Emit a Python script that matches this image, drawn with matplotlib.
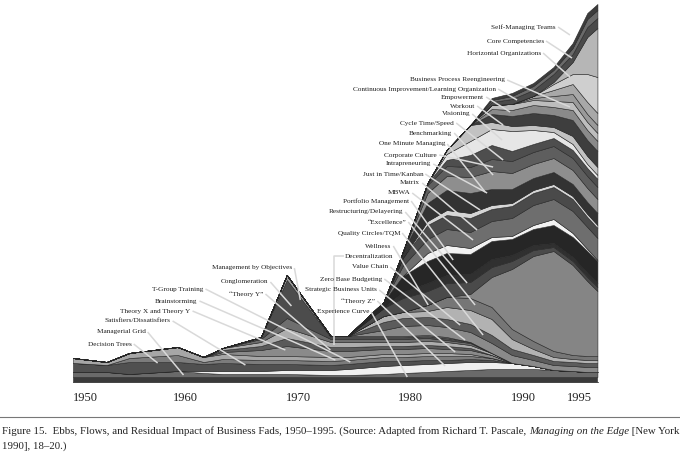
import matplotlib
matplotlib.use('Agg')
import matplotlib.pyplot as plt
from matplotlib.lines import Line2D

# sample years along the time axis
years = [1950, 1953, 1955, 1959.3, 1961.6, 1963.3, 1966.7, 1969, 1972.9, 1974.4, 1977.6,
         1979.3, 1981.5, 1983.2, 1985.3, 1987.2, 1989, 1990.9, 1992.7, 1994.4, 1995.7, 1996.6]

# --- bottom / early fads (relative impact) ---
base_dark = [5, 5, 5, 5, 5, 5, 5, 5, 5, 5, 5, 5, 5, 5, 5, 5, 5, 5, 5, 5, 5, 5]
decision_trees = [5, 5, 3, 6, 4, 3, 3, 3, 2, 2, 3, 4, 5, 6, 7, 8, 8, 8, 7, 6, 5, 5]
white_streak = [0, 0, 0, 0, 2, 3, 3, 4, 5, 6, 8, 8, 8, 8, 8, 7, 6, 3, 0, 0, 0, 0]
managerial_grid = [9, 7, 12, 9, 7, 8, 7, 6, 5, 5, 5, 4, 4, 3, 3, 2, 0, 0, 0, 0, 0, 0]
satisfiers = [0, 0, 4, 7, 2, 4, 4, 4, 4, 4, 4, 4, 4, 4, 3, 2, 0, 0, 0, 0, 0, 0]
early_light = [5, 3, 5, 8, 5, 5, 4, 4, 4, 3, 3, 3, 3, 3, 2, 0, 0, 0, 0, 0, 0, 0]
theory_xy = [0, 0, 0, 0, 0, 2, 6, 10, 6, 6, 5, 5, 5, 4, 4, 3, 0, 0, 0, 0, 0, 0]
t_group = [0, 0, 0, 0, 0, 2, 4, 8, 4, 4, 3, 3, 3, 3, 2, 0, 0, 0, 0, 0, 0, 0]
brainstorming = [0, 0, 0, 0, 0, 2, 4, 10, 5, 5, 4, 4, 4, 4, 3, 2, 0, 0, 0, 0, 0, 0]
theory_y = [0, 0, 0, 0, 0, 0, 3, 10, 3, 3, 3, 3, 3, 2, 2, 0, 0, 0, 0, 0, 0, 0]
conglomeration = [0, 0, 0, 0, 0, 0, 2, 38, 2, 2, 2, 2, 2, 2, 1, 0, 0, 0, 0, 0, 0, 0]
mbo = [0, 0, 0, 0, 0, 0, 0, 5, 1, 1, 1, 1, 1, 1, 0, 0, 0, 0, 0, 0, 0, 0]

# --- 1970s / 1980s / 1990s fads ---
experience_curve = [0, 0, 0, 0, 0, 0, 0, 0, 0, 0, 6, 10, 10, 10, 10, 10, 8, 6, 5, 5, 5, 5]
sbu = [0, 0, 0, 0, 0, 0, 0, 0, 0, 0, 8, 8, 8, 8, 8, 8, 6, 5, 4, 4, 4, 4]
zbb = [0, 0, 0, 0, 0, 0, 0, 0, 0, 0, 6, 6, 6, 12, 14, 16, 10, 6, 4, 3, 3, 3]
theory_z = [0, 0, 0, 0, 0, 0, 0, 0, 0, 0, 0, 0, 6, 10, 12, 12, 10, 8, 6, 4, 4, 4]
hump = [0, 0, 0, 0, 0, 0, 0, 0, 0, 0, 0, 0, 0, 0, 4, 30, 60, 85, 100, 90, 75, 65]
decentralization = [0, 0, 0, 0, 0, 0, 0, 0, 0, 0, 8, 14, 14, 14, 12, 10, 8, 6, 4, 4, 4, 4]
wellness = [0, 0, 0, 0, 0, 0, 0, 0, 0, 0, 0, 6, 8, 8, 8, 8, 6, 5, 4, 4, 4, 4]
value_chain = [0, 0, 0, 0, 0, 0, 0, 0, 0, 0, 6, 16, 22, 22, 20, 18, 16, 16, 18, 20, 22, 22]
qc_tqm = [0, 0, 0, 0, 0, 0, 0, 0, 0, 0, 0, 0, 8, 8, 6, 4, 3, 4, 6, 4, 2, 1]
excellence = [0, 0, 0, 0, 0, 0, 0, 0, 0, 0, 0, 10, 14, 16, 16, 16, 18, 20, 20, 22, 22, 22]
restructuring = [0, 0, 0, 0, 0, 0, 0, 0, 0, 0, 0, 8, 14, 14, 14, 12, 12, 12, 12, 12, 10, 10]
portfolio = [0, 0, 0, 0, 0, 0, 0, 0, 0, 0, 0, 0, 4, 5, 5, 4, 3, 3, 3, 3, 3, 3]
mbwa = [0, 0, 0, 0, 0, 0, 0, 0, 0, 0, 0, 6, 18, 20, 20, 16, 14, 12, 12, 12, 12, 12]
matrix = [0, 0, 0, 0, 0, 0, 0, 0, 0, 0, 0, 0, 10, 14, 16, 18, 16, 14, 14, 14, 14, 14]
jit = [0, 0, 0, 0, 0, 0, 0, 0, 0, 0, 0, 0, 8, 10, 10, 12, 12, 12, 12, 12, 12, 12]
intrapreneuring = [0, 0, 0, 0, 0, 0, 0, 0, 0, 0, 0, 0, 2, 6, 12, 14, 10, 8, 8, 8, 8, 8]
corp_culture = [0, 0, 0, 0, 0, 0, 0, 0, 0, 0, 0, 0, 0, 6, 14, 16, 20, 14, 6, 6, 4, 4]
one_minute = [0, 0, 0, 0, 0, 0, 0, 0, 0, 0, 0, 0, 0, 4, 16, 7, 5, 5, 5, 8, 8, 8]
benchmarking = [0, 0, 0, 0, 0, 0, 0, 0, 0, 0, 0, 0, 0, 0, 0, 8, 10, 12, 12, 16, 16, 16]
cycle_time = [0, 0, 0, 0, 0, 0, 0, 0, 0, 0, 0, 0, 0, 0, 0, 5, 6, 8, 8, 10, 10, 10]
visioning = [0, 0, 0, 0, 0, 0, 0, 0, 0, 0, 0, 0, 0, 0, 0, 4, 6, 5, 6, 8, 8, 8]
workout = [0, 0, 0, 0, 0, 0, 0, 0, 0, 0, 0, 0, 0, 0, 0, 0, 0, 2, 5, 8, 8, 8]
empowerment = [0, 0, 0, 0, 0, 0, 0, 0, 0, 0, 0, 0, 0, 0, 0, 0, 0, 2, 6, 10, 12, 12]
cont_improvement = [0, 0, 0, 0, 0, 0, 0, 0, 0, 0, 0, 0, 0, 0, 0, 0, 0, 0, 6, 10, 28, 36]
bpr = [0, 0, 0, 0, 0, 0, 0, 0, 0, 0, 0, 0, 0, 0, 0, 0, 0, 0, 2, 12, 37, 49]
horizontal = [0, 0, 0, 0, 0, 0, 0, 0, 0, 0, 0, 0, 0, 0, 0, 3, 5, 6, 8, 8, 10, 10]
core_comp = [0, 0, 0, 0, 0, 0, 0, 0, 0, 0, 0, 0, 0, 0, 0, 2, 3, 4, 4, 6, 8, 8]
self_managing = [0, 0, 0, 0, 0, 0, 0, 0, 0, 0, 0, 0, 0, 0, 0, 2, 3, 3, 3, 5, 6, 6]

layers = [base_dark, decision_trees, white_streak, managerial_grid, satisfiers, early_light,
          theory_xy, t_group, brainstorming, theory_y, conglomeration, mbo,
          experience_curve, sbu, zbb, theory_z, hump, decentralization, wellness, value_chain,
          qc_tqm, excellence, restructuring, portfolio, mbwa, matrix, jit, intrapreneuring,
          corp_culture, one_minute, benchmarking, cycle_time, visioning, workout, empowerment,
          cont_improvement, bpr, horizontal, core_comp, self_managing]

shades = ['#3a3a3a', '#6a6a6a', '#f0f0f0', '#505050', '#7c7c7c', '#a6a6a6',
          '#8a8a8a', '#5a5a5a', '#adadad', '#6e6e6e', '#4c4c4c', '#9c9c9c',
          '#8a8a8a', '#5c5c5c', '#b2b2b2', '#767676', '#858585', '#4a4a4a', '#303030', '#262626',
          '#f2f2f2', '#6e6e6e', '#4a4a4a', '#d6d6d6', '#333333', '#8e8e8e', '#5e5e5e', '#4e4e4e',
          '#e6e6e6', '#c2c2c2', '#3e3e3e', '#8a8a8a', '#bdbdbd', '#9a9a9a', '#a8a8a8',
          '#cfcfcf', '#b6b6b6', '#4a4a4a', '#6a6a6a', '#3c3c3c']

# label text: (text, right-edge year, level)
fad_labels = [
    ('Management by Objectives', 1969.49, 114), ('Conglomeration', 1967.36, 100),
    ('T-Group Training', 1961.60, 93), ('\u201cTheory Y\u201d', 1966.92, 88),
    ('Brainstorming', 1961.06, 81), ('Theory X and Theory Y', 1960.44, 71),
    ('Satisfiers/Dissatisfiers', 1958.67, 61), ('Managerial Grid', 1956.45, 50),
    ('Decision Trees', 1955.21, 38),
    ('Corporate Culture', 1982.36, 227), ('Intrapreneuring', 1981.83, 218),
    ('Just in Time/Kanban', 1981.12, 208), ('Matrix', 1980.85, 199),
    ('MBWA', 1979.96, 189), ('Portfolio Management', 1979.88, 181),
    ('Restructuring/Delayering', 1979.34, 170), ('\u201cExcellence\u201d', 1979.61, 160),
    ('Quality Circles/TQM', 1979.08, 149), ('Wellness', 1978.28, 136),
    ('Decentralization', 1978.46, 126), ('Value Chain', 1978.01, 115),
    ('Zero Base Budgeting', 1977.48, 103), ('Strategic Business Units', 1977.04, 92),
    ('\u201cTheory Z\u201d', 1976.86, 81), ('Experience Curve', 1976.33, 70),
    ('Self-Managing Teams', 1992.92, 355), ('Core Competencies', 1991.85, 341),
    ('Horizontal Organizations', 1991.59, 329), ('Business Process Reengineering', 1988.39, 302),
    ('Continuous Improvement/Learning Organization', 1987.60, 293),
    ('Empowerment', 1986.53, 285), ('Workout', 1985.73, 276), ('Visioning', 1985.29, 268),
    ('Cycle Time/Speed', 1983.87, 259), ('Benchmarking', 1983.69, 249),
    ('One Minute Managing', 1983.07, 238),
]

# leader lines: list of (years, levels)
leaders = [
    ([1969.67, 1970.20], [114, 82]), ([1967.54, 1969.41], [100, 76]),
    ([1961.77, 1974.64], [93, 20]), ([1967.10, 1972.87], [88, 32]),
    ([1961.24, 1973.31], [81, 22]), ([1960.62, 1968.87], [71, 32]),
    ([1958.85, 1965.32], [61, 17]), ([1956.63, 1959.82], [50, 7]),
    ([1955.39, 1957.52], [38, 19]),
    ([1982.54, 1987.33], [227, 215]), ([1982.01, 1986.80], [218, 189]),
    ([1981.30, 1986.18], [208, 172]), ([1981.03, 1985.91], [199, 152]),
    ([1980.14, 1985.55], [189, 142]), ([1980.05, 1983.78], [181, 122]),
    ([1979.52, 1985.02], [170, 99]), ([1979.79, 1985.73], [160, 77]),
    ([1979.25, 1986.44], [149, 47]), ([1978.46, 1981.56], [136, 77]),
    ([1974.11, 1973.22, 1973.22], [126, 126, 37]),
    ([1978.19, 1984.40], [115, 57]), ([1977.66, 1984.84], [103, 42]),
    ([1977.21, 1983.96], [92, 30]), ([1977.04, 1983.07], [81, 16]),
    ([1976.50, 1979.70], [70, 5]),
    ([1993.10, 1994.16], [355, 347]), ([1992.03, 1994.34], [341, 324]),
    ([1991.77, 1994.16], [329, 305]), ([1988.57, 1994.16], [302, 275]),
    ([1987.77, 1989.46], [293, 282]), ([1986.71, 1988.84], [285, 270]),
    ([1985.91, 1988.22], [276, 257]), ([1985.47, 1988.13], [268, 242]),
    ([1984.05, 1988.22], [259, 222]), ([1983.87, 1987.33], [249, 207]),
    ([1983.25, 1986.62], [238, 190]),
]

tick_years = [1950, 1960, 1970, 1980, 1990, 1995]

serif = ['Liberation Serif', 'DejaVu Serif']

fig = plt.figure(figsize=(6.8, 4.53), dpi=100)
ax = fig.add_axes([73 / 680, 71 / 453, 525 / 680, 378 / 453])
ax.stackplot(years, *layers, colors=shades, edgecolor='#262626', linewidth=0.4)
ax.set_xlim(1950, 1996.65)
ax.set_ylim(0, 378)

for xs, ys in leaders:
    ax.plot(xs, ys, color='#d9d9d9', lw=1.1, solid_capstyle='butt', zorder=3)

for s, x, y in fad_labels:
    ax.text(x, y, s, ha='right', va='center', fontsize=5.2, family=serif,
            color='#1e1e1e', zorder=4)

ax.set_yticks([])
ax.set_xticks(tick_years)
ax.set_xticklabels([str(t) for t in tick_years], family=serif, fontsize=9)
ax.get_xticklabels()[0].set_ha('left')
ax.tick_params(axis='x', length=0, pad=7, colors='#222222')
for side in ['top', 'left', 'right']:
    ax.spines[side].set_visible(False)
ax.spines['bottom'].set_color('#444444')
ax.spines['bottom'].set_linewidth(0.6)

# caption rule and text
fig.add_artist(Line2D([0, 1], [1 - 417 / 453] * 2, transform=fig.transFigure,
                      color='#777777', lw=0.8))
renderer = fig.canvas.get_renderer()
parts = [('Figure 15.  Ebbs, Flows, and Residual Impact of Business Fads, 1950\u20131995. '
          '(Source: Adapted from Richard T. Pascale, ', 'normal'),
         ('Managing on the Edge', 'italic'), (' [New York', 'normal')]
x = 2 / 680
for s, st in parts:
    t = fig.text(x, 1 - 431 / 453, s, fontsize=7.8, family=serif, style=st,
                 va='center', ha='left', color='#222222')
    bb = t.get_window_extent(renderer=renderer)
    x = bb.x1 / fig.bbox.width
fig.text(2 / 680, 1 - 446 / 453, '1990], 18\u201320.)', fontsize=7.8, family=serif,
         va='center', ha='left', color='#222222')

fig.savefig('out.png', dpi=100)
